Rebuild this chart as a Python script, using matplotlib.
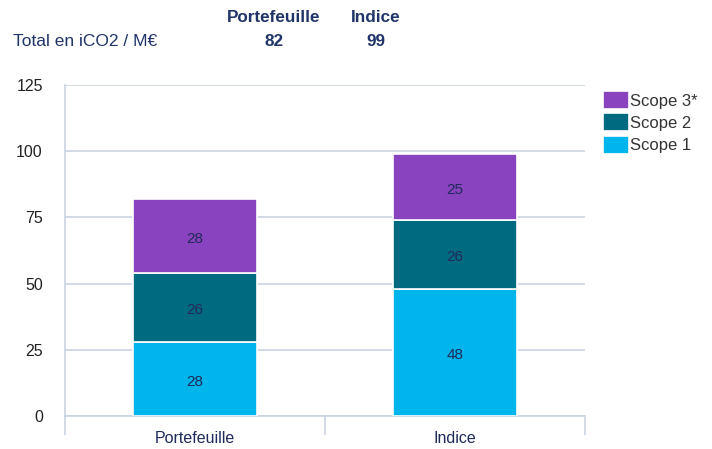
import matplotlib
matplotlib.use("Agg")
import matplotlib.pyplot as plt
import numpy as np

categories = ["Portefeuille", "Indice"]
scope1 = [28, 48]
scope2 = [26, 26]
scope3 = [28, 25]
totals = [82, 99]
series_names = ["Scope 1", "Scope 2", "Scope 3*"]
colors = ["#00B5EC", "#006A80", "#8A43BE"]

plt.rcParams['font.family'] = ['Liberation Sans', 'DejaVu Sans']

fig = plt.figure(figsize=(7.12, 4.49), dpi=100)
ax = fig.add_axes([65/712, 1 - 416/449, 520/712, 331/449])

x = np.arange(len(categories))
w = 0.477
bottom = np.zeros(len(categories))
handles = []
for vals, name, col in zip([scope1, scope2, scope3], series_names, colors):
    b = ax.bar(x, vals, w, bottom=bottom, color=col, edgecolor="white", linewidth=1.2, label=name, zorder=3)
    for xi, v, bt in zip(x, vals, bottom):
        ax.annotate(str(v), (xi, bt + v / 2), xytext=(0, -2), textcoords="offset points",
                    ha="center", va="center", fontsize=11, color="#1E2A5A", zorder=4)
    bottom += np.array(vals)
    handles.append(b)

ax.set_xlim(-0.5, 1.5)
ax.set_ylim(0, 125)
ax.set_yticks([0, 25, 50, 75, 100, 125])
ax.grid(axis="y", color="#C9D3E3", linewidth=1.2, zorder=0)
ax.set_xticks(x)
ax.set_xticklabels(categories)
ax.set_xticks([-0.5, 0.5, 1.5], minor=True)
ax.tick_params(axis="x", which="major", length=0, pad=11, labelsize=11.5, labelcolor="#1E2A5A")
ax.tick_params(axis="x", which="minor", length=14, width=1.2, color="#C9D3E3")
ax.tick_params(axis="y", length=0, pad=16, labelsize=11.5, labelcolor="#222222")
for s in ["top", "right"]:
    ax.spines[s].set_visible(False)
ax.spines["left"].set_color("#C9D3E3")
ax.spines["left"].set_linewidth(1.2)
ax.spines["bottom"].set_color("#C9D3E3")
ax.spines["bottom"].set_linewidth(1.2)
for lbl in ax.get_yticklabels():
    lbl.set_horizontalalignment("right")

leg = ax.legend(handles[::-1], series_names[::-1], loc="upper left",
                bbox_to_anchor=(603/712, 1 - 91/449), bbox_transform=fig.transFigure,
                frameon=False, fontsize=12, handlelength=1.55, handleheight=1.3,
                handletextpad=0.05, labelspacing=0.25, borderpad=0, borderaxespad=0)
for t in leg.get_texts():
    t.set_color("#333333")

navy = "#1F3468"
fig.text(13/712, 1 - 42/449, "Total en iCO2 / M€", ha="left", va="center", fontsize=12.5, color=navy)
for cat, tot, xc in zip(categories, totals, [274, 376]):
    fig.text(xc/712, 1 - 17/449, cat, ha="center", va="center", fontsize=12.3, fontweight="bold", color=navy)
    fig.text(xc/712, 1 - 42/449, str(tot), ha="center", va="center", fontsize=12.3, fontweight="bold", color=navy)

fig.savefig("out.png", dpi=100)
